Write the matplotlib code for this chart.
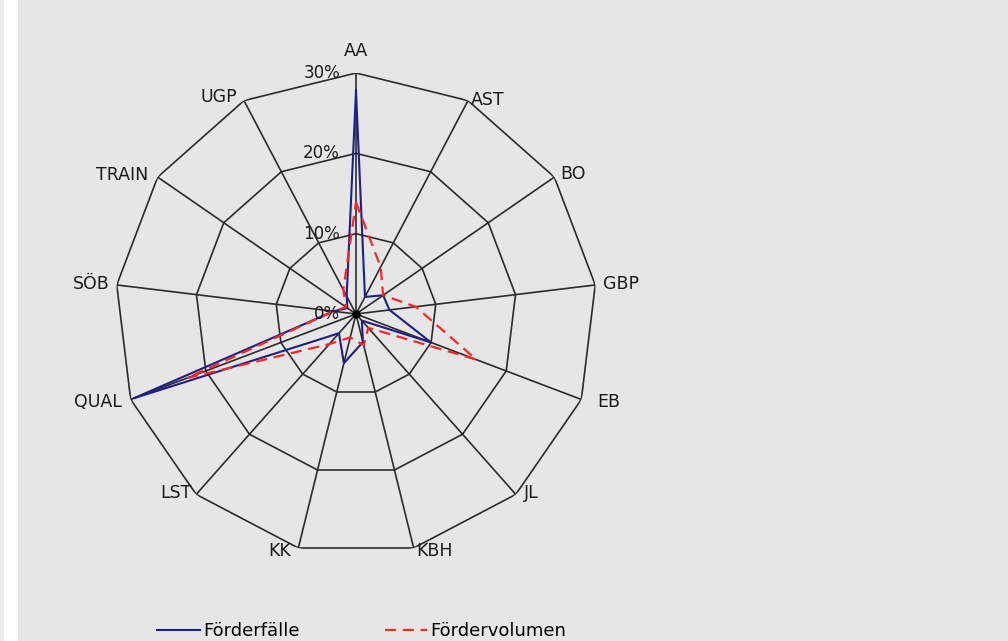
import numpy as np
import matplotlib
matplotlib.use("Agg")
from matplotlib import pyplot as plt
from matplotlib.patches import Rectangle

categories = ["AA", "AST", "BO", "GBP", "EB", "JL", "KBH", "KK", "LST",
              "QUAL", "SÖB", "TRAIN", "UGP"]
foerderfaelle = [27.8, 2.4, 4.1, 4.2, 10.0, 1.1, 3.6, 6.3, 3.2, 29.6, 2.8, 1.3, 2.5]
foerdervolumen = [13.9, 6.6, 4.1, 7.5, 16.0, 2.3, 4.0, 3.0, 5.0, 22.5, 2.8, 1.5, 3.4]
rings = [10, 20, 30]
ring_labels = ["0%", "10%", "20%", "30%"]

# label offsets in pixels from the outer vertex (dx, dy, ha, va)
label_offsets = {
    "AA": (0, 13, "center", "bottom"),
    "AST": (3, 1, "left", "center"),
    "BO": (6, 3, "left", "center"),
    "GBP": (8, 1, "left", "center"),
    "EB": (16, -3, "left", "center"),
    "JL": (8, 1, "left", "center"),
    "KBH": (3, -3, "left", "center"),
    "KK": (-7, -3, "right", "center"),
    "LST": (-5, 1, "right", "center"),
    "QUAL": (-9, -3, "right", "center"),
    "SÖB": (-7, 1, "right", "center"),
    "TRAIN": (-9, 2, "right", "center"),
    "UGP": (-7, 4, "right", "center"),
}

bg = "#e6e6e6"
fig = plt.figure(figsize=(10.08, 6.41), dpi=100, facecolor=bg)
fig.patches.append(Rectangle((0, 0), 4 / 1008, 1, transform=fig.transFigure,
                             facecolor="#ebebeb", edgecolor="none", zorder=0))
fig.patches.append(Rectangle((4 / 1008, 0), 14 / 1008, 1, transform=fig.transFigure,
                             facecolor="white", edgecolor="none", zorder=0))

ax = fig.add_axes([115 / 1008, 86 / 641, 482 / 1008, 482 / 641], projection="polar")
ax.set_facecolor("none")
ax.set_theta_zero_location("N")
ax.set_theta_direction(-1)
ax.set_ylim(0, 30)
ax.grid(False)
ax.set_xticks([])
ax.set_yticks([])
ax.spines["polar"].set_visible(False)

n = len(categories)
theta = np.arange(n) * 2 * np.pi / n
theta_closed = np.append(theta, theta[0])

grid_kw = dict(color="#2b2b2b", lw=1.2, zorder=1)
for r in rings:
    ax.plot(theta_closed, [r] * (n + 1), **grid_kw)
for t in theta:
    ax.plot([t, t], [0, rings[-1]], **grid_kw)
ax.plot([0], [0], "o", color="black", ms=5, zorder=2)

blue, = ax.plot(theta_closed, foerderfaelle + foerderfaelle[:1], color="#1f1f85",
                lw=1.5, zorder=3, label="Förderfälle")
red, = ax.plot(theta_closed, foerdervolumen + foerdervolumen[:1], color="#ff2626",
               lw=1.6, dashes=(5, 3), zorder=4, label="Fördervolumen")

fs = 12.5
for t, name in zip(theta, categories):
    dx, dy, ha, va = label_offsets[name]
    ax.annotate(name, xy=(t, rings[-1]), xytext=(dx, dy), textcoords="offset pixels",
                ha=ha, va=va, fontsize=fs, color="#1a1a1a", annotation_clip=False)

for r, lab in zip([0] + rings, ring_labels):
    ax.annotate(lab, xy=(0, r), xytext=(-16, 0), textcoords="offset pixels",
                ha="right", va="center", fontsize=12, color="#1a1a1a",
                annotation_clip=False, zorder=5)

fig.legend(handles=[blue, red], loc="lower left", bbox_to_anchor=(141 / 1008, -0.024),
           ncol=2, frameon=False, fontsize=13, handlelength=2.35, handletextpad=0.2,
           columnspacing=4.7)

fig.savefig("out.png", dpi=100, facecolor=bg)
